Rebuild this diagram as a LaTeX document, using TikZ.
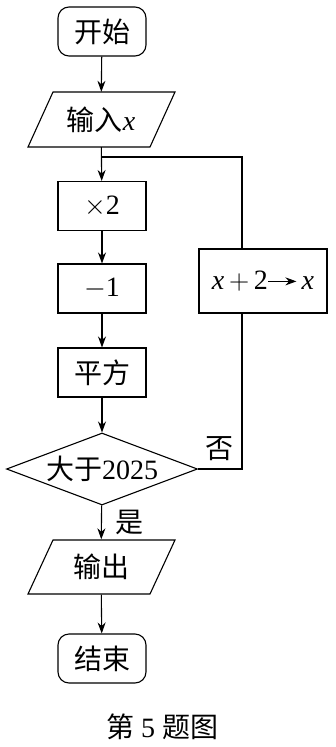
\RequirePackage{fix-cm}
\documentclass[tikz,border=0pt]{standalone}
\usepackage{fontspec}
\setmainfont{Liberation Serif}
\newfontfamily\cjk{Noto Sans CJK SC}
\usetikzlibrary{shapes.geometric,arrows.meta}
\newcommand{\xv}{\textit{x}}
\begin{document}
\begin{tikzpicture}[x=1pt,y=-1pt,
  every node/.style={font=\fontsize{28}{28}\selectfont},
  line/.style={line width=1.1pt},
  arr/.style={line width=1.1pt,-{Stealth[length=11pt,width=8pt]}},
  procbox/.style={draw,line width=1.1pt,minimum width=88pt,minimum height=49pt,inner sep=0pt},
  termbox/.style={procbox,rounded corners=11pt},
  iobox/.style={minimum width=100pt,minimum height=55pt,inner sep=0pt},
  decbox/.style={draw,line width=1.1pt,diamond,aspect=2.64,minimum width=191pt,minimum height=72pt,inner sep=0pt}]
\useasboundingbox (0,0) rectangle (335,747);
\fill[white] (0,0) rectangle (335,747);

\node[termbox] (start) at (102,31.5) {{\cjk 开始}};
\node[iobox] (in) at (101,119.5) {{\cjk 输入}\xv};
\draw[line] (53,92) -- (175,92) -- (150,147) -- (28,147) -- cycle;
\node[procbox] (x2) at (102,206) {$\times$2};
\node[procbox] (m1) at (102,288.5) {$-$1};
\node[procbox] (sq) at (102,372.5) {{\cjk 平方}};
\node[decbox] (dec) at (102,469) {{\cjk 大于}2025};
\node[iobox] (out) at (101,567) {{\cjk 输出}};
\draw[line] (53,540) -- (175,540) -- (150,594) -- (28,594) -- cycle;
\node[termbox] (end) at (102,658.5) {{\cjk 结束}};
\node[procbox,minimum width=128pt,minimum height=64pt] (loop) at (263,281)
  {\xv\,$+$\,2\tikz[baseline=-8pt]{\draw[line width=1.1pt,-{Stealth[length=11pt,width=8pt]}] (0pt,0pt) -- (28pt,0pt);}\,\xv};

\coordinate (join) at (102,157);
\coordinate (r1) at (242,469);
\coordinate (r2) at (242,157);

\draw[arr] (start) -- (in);
\draw[arr] (in) -- (x2);
\draw[arr] (x2) -- (m1);
\draw[arr] (m1) -- (sq);
\draw[arr] (sq) -- (dec);
\draw[arr] (dec) -- (out);
\draw[arr] (out) -- (end);
\draw[line] (dec.east) -- (r1) -- (loop.south -| r1);
\draw[line] (loop.north -| r1) -- (r2) -- (join);

\node (no) at (219,449) {{\cjk 否}};
\node (yes) at (129,522) {{\cjk 是}};
\node (cap) at (162,727) {{\cjk 第}\ 5\ {\cjk 题图}};
\end{tikzpicture}
\end{document}
